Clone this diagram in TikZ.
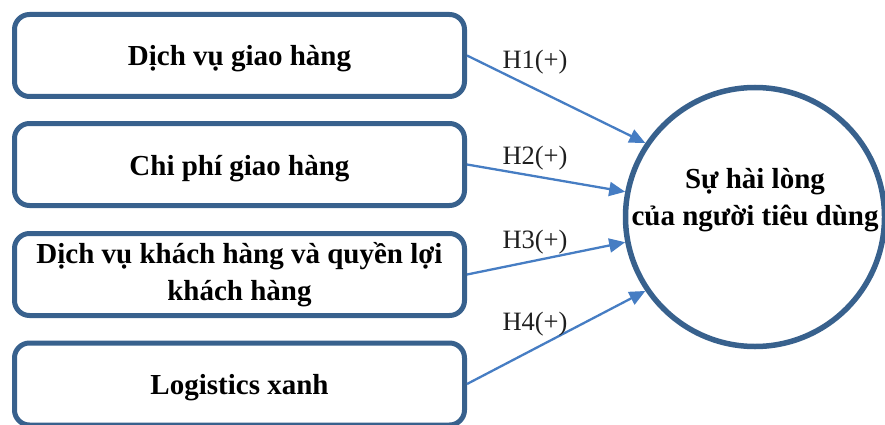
\documentclass[tikz,border=0pt]{standalone}
\usepackage{fontspec}
\setmainfont{Liberation Serif}
\usetikzlibrary{arrows.meta}
\definecolor{boxblue}{RGB}{56,97,141}
\definecolor{arrblue}{RGB}{70,125,195}
\tikzset{
  factor/.style={draw=boxblue, line width=5pt, rounded corners=15pt,
    minimum width=450pt, minimum height=82pt, inner sep=0pt,
    align=center, font=\fontsize{29}{37}\selectfont\bfseries},
  oneline/.style={text height=27pt, text depth=6pt},
  outcome/.style={draw=boxblue, line width=5.5pt, circle, minimum size=259pt, inner sep=0pt},
  outtext/.style={align=center, inner sep=0pt, font=\fontsize{29}{37}\selectfont\bfseries},
  hyp/.style={inner sep=0pt, font=\fontsize{26.5}{30}\selectfont, text=black!88},
  arr/.style={draw=arrblue, line width=2.3pt, -{Triangle[length=16pt,width=14pt]}}
}
\begin{document}
\begin{tikzpicture}[x=1pt,y=-1pt]
\useasboundingbox (0,0) rectangle (885,425);
\node[factor,oneline] (b1) at (239.5,55.5) {Dịch vụ giao hàng};
\node[factor,oneline] (b2) at (239.5,164.5) {Chi phí giao hàng};
\node[factor] (b3) at (239.5,274.5) {Dịch vụ khách hàng và quyền lợi\\khách hàng};
\node[factor,oneline] (b4) at (239.5,384) {Logistics xanh};
\node[outcome] (c) at (755,217) {};
\node[outtext] (ct) at (755,200) {Sự hài lòng\\của người tiêu dùng};
\draw[arr] (b1.east) -- (c.146);
\draw[arr] (b2.east) -- (c.169);
\draw[arr] (b3.east) -- (c.191);
\draw[arr] (b4.east) -- (c.214);
\node[hyp] (l1) at (535,62) {H1(+)};
\node[hyp] (l2) at (535,158.5) {H2(+)};
\node[hyp] (l3) at (535,242.5) {H3(+)};
\node[hyp] (l4) at (535,324.5) {H4(+)};
\end{tikzpicture}
\end{document}
